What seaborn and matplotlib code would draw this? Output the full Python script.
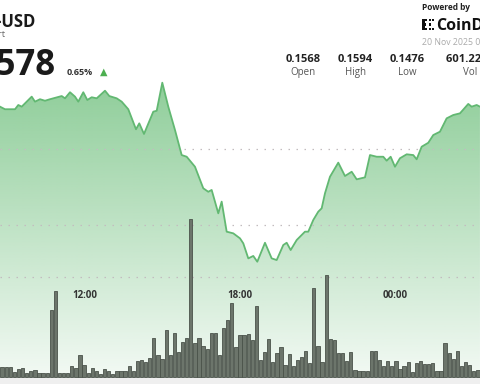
import numpy as np
import matplotlib
matplotlib.use("Agg")
import matplotlib.pyplot as plt
import seaborn as sns
from matplotlib.patches import Polygon, Rectangle

# ---------------- data ----------------
price_hours = [8.740, 8.933, 9.319, 9.446, 9.577, 9.770, 9.963, 10.090, 10.283, 10.476,
               10.669, 11.120, 11.248, 11.441, 11.634, 11.761, 11.954, 12.108, 12.278, 12.471,
               12.791, 12.957, 13.242, 13.435, 13.690, 13.987, 14.114, 14.296, 14.654, 14.786,
               15.002, 15.233, 15.492, 15.750, 15.943, 16.263, 16.583, 16.776, 16.907, 17.162,
               17.293, 17.486, 17.741, 18.000, 18.127, 18.320, 18.512, 18.667, 18.964, 19.222,
               19.415, 19.670, 19.801, 19.955, 20.187, 20.507, 20.634, 20.827, 21.020, 21.151,
               21.279, 21.471, 21.792, 22.050, 22.309, 22.502, 22.822, 23.015, 23.273, 23.528,
               23.659, 23.813, 23.979, 24.172, 24.431, 24.685, 24.816, 25.009, 25.264, 25.457,
               25.715, 25.973, 26.228, 26.487, 26.807, 26.938, 27.131, 27.258]
prices = [0.15782, 0.15765, 0.15765, 0.15793, 0.15782, 0.15815, 0.15848, 0.15815, 0.15831, 0.15821,
          0.15831, 0.15852, 0.15837, 0.15877, 0.15848, 0.15815, 0.15877, 0.15826, 0.15844, 0.15837,
          0.15887, 0.15852, 0.15837, 0.15815, 0.15765, 0.15633, 0.15672, 0.15602, 0.15749, 0.15755,
          0.15940, 0.15782, 0.15628, 0.15463, 0.15452, 0.15386, 0.15244, 0.15221, 0.15233, 0.15079,
          0.15156, 0.14958, 0.14947, 0.14914, 0.14881, 0.14782, 0.14798, 0.14760, 0.14885, 0.14782,
          0.14771, 0.14870, 0.14885, 0.14837, 0.14903, 0.14958, 0.14958, 0.15035, 0.15090, 0.15112,
          0.15211, 0.15320, 0.15413, 0.15325, 0.15353, 0.15303, 0.15316, 0.15463, 0.15452, 0.15452,
          0.15426, 0.15452, 0.15386, 0.15442, 0.15468, 0.15463, 0.15435, 0.15518, 0.15544, 0.15595,
          0.15617, 0.15705, 0.15727, 0.15738, 0.15800, 0.15782, 0.15793, 0.15782]

volume = [9.3, 9.3, 9.3, 4.3, 7.7, 8.3, 3.3, 6, 7, 3.7,
          3.7, 3.7, 66.7, 86, 3.3, 4, 4, 10.3, 8.7, 21.3,
          12, 3.7, 8.7, 5.3, 2.7, 7.7, 6, 2.7, 5.3, 6,
          5.3, 10.3, 5.3, 16, 16.7, 14.3, 18.7, 38.7, 22, 17.3,
          46.7, 21.7, 43.3, 24.7, 34.7, 38.7, 158, 33.3, 38.7, 31,
          28, 43.7, 43.7, 21.7, 48.7, 56.7, 74, 30, 42, 42,
          42.7, 36.7, 71, 17, 24.3, 37.7, 15, 23.3, 29.3, 12,
          22.7, 10.7, 17, 19.3, 26, 13.7, 88.7, 30.3, 15, 102,
          37.3, 36.7, 23.3, 23.3, 16, 24.3, 6.7, 6,
          6, 5.3, 25.7, 25.7, 17, 11, 16, 10.3, 16, 7.7,
          11, 14.3, 4.3, 13.3, 15.7, 12.3, 12.3, 13.3, 6, 6,
          33.7, 23.3, 17.7, 25.7, 10.3, 15, 12, 6, 6.7]

tick_hours = [12, 18, 24]
tick_labels = ["12:00", "18:00", "00:00"]
grid_prices = [0.155, 0.150, 0.1466]

stat_values = ["0.1568", "0.1594", "0.1476", "601.22 M"]
stat_names = ["Open", "High", "Low", "Vol"]

# ---------------- figure ----------------
W, H = 480, 384
plt.rcParams['font.family'] = ['Open Sans', 'DejaVu Sans']
fig = plt.figure(figsize=(4.8, 3.84), dpi=100)
fig.patch.set_facecolor('white')

x0, x1 = 8.74, 27.26
y_lo, y_hi = 0.13954, 0.16485

ax = fig.add_axes([0, 0, 1, 1])
ax.set_axis_off()

# gradient fill under the price line
n = 256
rgba = np.zeros((n, 1, 4))
rgba[:, 0, 0] = 108 / 255
rgba[:, 0, 1] = 190 / 255
rgba[:, 0, 2] = 122 / 255
rgba[:, 0, 3] = 0.95 - 0.88 * np.linspace(0, 1, n)
im = ax.imshow(rgba, extent=(x0, x1, y_lo, y_hi), aspect='auto', origin='upper', zorder=1)
poly_xy = np.column_stack([[price_hours[0]] + price_hours + [price_hours[-1]],
                           [y_lo] + prices + [y_lo]])
poly = Polygon(poly_xy, closed=True, facecolor='none', edgecolor='none')
ax.add_patch(poly)
im.set_clip_path(poly)

sns.lineplot(x=price_hours, y=prices, ax=ax, color='#62b872', linewidth=1.3, zorder=3)

for g in grid_prices:
    ax.axhline(g, color='#c2bcbf', lw=0.9, ls=(0, (1.2, 5.2)), zorder=2)

ax.set_xlim(x0, x1)
ax.set_ylim(y_lo, y_hi)
ax.set_axis_off()

# volume bars
nb = len(volume)
step = (x1 - x0) / nb
bar_hours = np.round(x0 + step * (np.arange(nb) + 0.5), 4)
ax2 = ax.twinx()
ax2.axhspan(-7.3, -1.3, color='#efefef', zorder=0)
sns.barplot(x=bar_hours, y=volume, native_scale=True, width=0.8, color='#6c756b',
            saturation=1, edgecolor='#4a524a', linewidth=0.6, ax=ax2, zorder=3)
ax2.set_xlim(x0, x1)
ax2.set_ylim(-7.3, 376.7)
ax2.set_axis_off()

# time labels
for h, lab in zip(tick_hours, tick_labels):
    ax.text(h, 1 - 297.5 / H, lab, transform=ax.get_xaxis_transform(), ha='center',
            va='baseline', fontsize=7, fontweight='bold', color='#333333', zorder=5)


def fp(x, y):
    return x / W, 1 - y / H


# header texts
fig.text(*fp(35.5, 27), "DOGE-USD", ha='right', va='baseline', fontsize=12,
         fontweight='bold', color='#1a1a1a')
fig.text(*fp(5.5, 37), "Chart", ha='right', va='baseline', fontsize=6.5, color='#666666')
fig.text(*fp(55.5, 75), "0.1578", ha='right', va='baseline', fontsize=25,
         fontweight='bold', color='#1a1a1a')
fig.text(*fp(67, 75), "0.65%", ha='left', va='baseline', fontsize=6.5,
         fontweight='bold', color='#333333')
fig.text(*fp(103.5, 75), "\u25B2", ha='center', va='baseline', fontsize=7,
         color='#4caf50', family='DejaVu Sans')

fig.text(*fp(422, 10), "Powered by", ha='left', va='baseline', fontsize=6,
         fontweight='bold', color='#222222')
for (rx, ry, rw, rh) in [(422, 19, 2.5, 11), (422, 19, 5, 2), (422, 28, 5, 2), (422, 23.5, 4, 2),
                          (428.5, 19, 2, 2), (428.5, 23.5, 2, 2), (428.5, 28, 2, 2),
                          (432, 19, 2, 2), (432, 28, 2, 2)]:
    fig.add_artist(Rectangle(fp(rx, ry + rh), rw / W, rh / H, transform=fig.transFigure,
                             facecolor='#111111', edgecolor='none'))
fig.text(*fp(436.5, 29.5), "CoinDesk", ha='left', va='baseline', fontsize=11.5,
         fontweight='bold', color='#111111')
fig.text(*fp(422, 45), "20 Nov 2025 00:00", ha='left', va='baseline', fontsize=6.3,
         color='#aaaaaa')

stat_x = [303, 355, 407, 470]
for sx, v, nm in zip(stat_x, stat_values, stat_names):
    fig.text(*fp(sx, 62), v, ha='center', va='baseline', fontsize=8,
             fontweight='bold', color='#222222')
    fig.text(*fp(sx, 75), nm, ha='center', va='baseline', fontsize=7, color='#555555')

fig.savefig('out.png', dpi=100)
